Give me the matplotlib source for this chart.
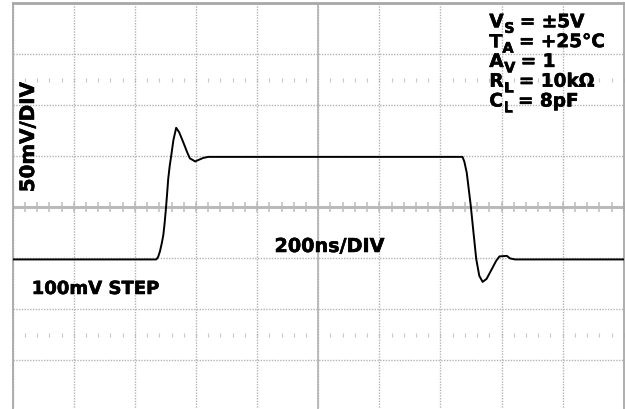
import numpy as np
import matplotlib
matplotlib.use("Agg")
import matplotlib.pyplot as plt
import matplotlib.patheffects as pe

plt.rcParams['font.family'] = ['DejaVu Sans']

# scope trace: time in ns, output in mV
t_ns = [0, 470, 476, 482, 488, 493, 497, 501, 505, 509, 514, 518, 526, 535, 545, 558,
        571, 580, 589, 597, 608, 624, 640, 1472, 1478, 1486, 1499, 1508, 1517, 1527,
        1538, 1551, 1568, 1582, 1593, 1617, 1628, 1644, 2000]
v_mv = [-51, -51, -48.5, -43, -35, -27, -16, -3, 12, 28, 41, 49, 66, 78, 73.5, 64,
        54, 48, 46.5, 45, 46.5, 48.5, 49.5, 49.5, 45, 34, 2, -24.5, -50.5, -67,
        -73, -70, -60.5, -52.5, -48, -47.5, -50, -51, -51]

ns_per_div = 200
mv_per_div = 50
n_xdiv = 10
n_ydiv = 8

# (symbol, subscript, rest of line)
conditions = [('V', 'S', ' = ±5V'),
              ('T', 'A', ' = +25°C'),
              ('A', 'V', ' = 1'),
              ('R', 'L', ' = 10kΩ'),
              ('C', 'L', ' = 8pF')]

W, H = 625, 410
fig = plt.figure(figsize=(W / 100, H / 100), dpi=100)
ax = fig.add_axes([12.7 / W, (H - 412.5) / H, 611.1 / W, 408.2 / H])

xmax = n_xdiv * ns_per_div
ymax = n_ydiv / 2 * mv_per_div
ax.set_xlim(0, xmax)
ax.set_ylim(-ymax, ymax)

grid_c = '#b4b4b4'
ax.set_xticks(np.arange(0, xmax + 1, ns_per_div))
ax.set_yticks(np.arange(-ymax, ymax + 1, mv_per_div))
ax.grid(True, ls=(0, (1, 1)), color=grid_c, lw=1.0)
ax.tick_params(length=0, labelleft=False, labelbottom=False)
for side in ['left', 'top', 'right', 'bottom']:
    ax.spines[side].set_color('#a8a8a8')
ax.spines['top'].set_linewidth(2.0)
ax.spines['left'].set_linewidth(1.3)
ax.spines['right'].set_linewidth(1.3)

# centre axes with minor ticks
ax.axhline(0, color='#bdbdbd', lw=2.2, zorder=1)
ax.axvline(xmax / 2, color='#bdbdbd', lw=1.4, zorder=1)
minor = np.arange(0, xmax + 1, ns_per_div / 5)
ax.plot(minor, np.zeros_like(minor), ls='none', marker='|', ms=7.5, mew=1.1,
        color='#bdbdbd', zorder=1)
for row in (-2.5 * mv_per_div, 2.5 * mv_per_div):
    ax.plot(minor, np.full_like(minor, row), ls='none', marker='|', ms=2.5,
            mew=0.8, color='#c8c8c8', zorder=1)

ax.plot(t_ns, v_mv, color='black', lw=1.4, zorder=3, solid_joinstyle='round')

fs = 13.3
heavy = [pe.withStroke(linewidth=0.4, foreground='black')]
kw = dict(fontweight='bold', color='black', path_effects=heavy)
fig.text(28.5 / W, 1 - 138 / H, '50mV/DIV', rotation=90, ha='center', va='center',
         fontsize=14.3, **kw)
fig.text(384 / W, 1 - 253 / H, '200ns/DIV', ha='right', va='baseline',
         fontsize=13.8, **kw)
fig.text(31.7 / W, 1 - 295 / H, '100mV STEP', ha='left', va='baseline',
         fontsize=13.0, **kw)

renderer = fig.canvas.get_renderer()
for i, (sym, sub, rest) in enumerate(conditions):
    base = 28.3 + 19.8 * i
    x = 489.3
    t = fig.text(x / W, 1 - base / H, sym, ha='left', va='baseline', fontsize=fs, **kw)
    x = t.get_window_extent(renderer).x1 + 0.5
    t = fig.text(x / W, 1 - (base + 5.5) / H, sub, ha='left', va='baseline',
                 fontsize=fs * 0.78, **kw)
    x = t.get_window_extent(renderer).x1 - 1
    fig.text(x / W, 1 - base / H, rest, ha='left', va='baseline', fontsize=fs, **kw)

fig.savefig('out.png', dpi=100)
